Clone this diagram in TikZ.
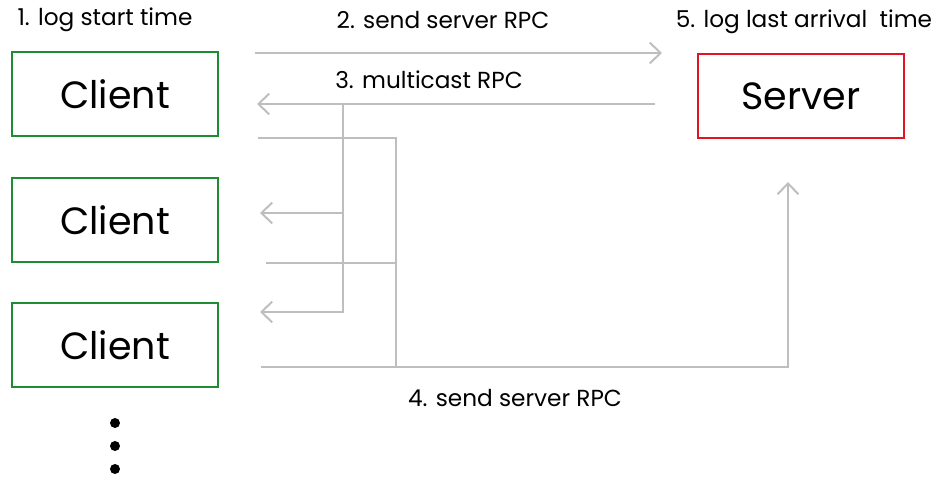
\documentclass[tikz,border=0pt]{standalone}
\usepackage{fontspec}
\setmainfont{Poppins}
\usetikzlibrary{arrows.meta, positioning}
\definecolor{cgreen}{RGB}{30,140,50}
\definecolor{sred}{RGB}{225,20,35}
\definecolor{lgray}{RGB}{190,190,190}

\begin{document}
\begin{tikzpicture}[x=0.025cm,y=-0.025cm,
  C/.style={draw=cgreen,line width=1.3pt,
            minimum width=5.15cm,minimum height=2.1cm,
            font=\fontsize{27}{32}\selectfont},
  Srv/.style={draw=sred,line width=1.3pt,
            minimum width=5.15cm,minimum height=2.1cm,
            font=\fontsize{27}{32}\selectfont},
  ln/.style={lgray,line width=1.4pt},
  ar/.style={-{Straight Barb[length=0.27cm,width=0.52cm]},lgray,line width=1.4pt},
  lb/.style={font=\fontsize{16.5}{20}\selectfont,inner sep=0pt},
  vdot/.style={circle,fill=black,inner sep=0pt,minimum size=0.25cm}
]
\useasboundingbox (0,0) rectangle (936,477);

% clients and server
\node[C] (c1) at (115,94)  {Client};
\node[C] (c2) at (115,220) {Client};
\node[C] (c3) at (115,345) {Client};
\node[Srv] (srv) at (801,96) {Server};

% more clients
\node[vdot] (d1) at (115,423) {};
\node[vdot] (d2) at (115,446) {};
\node[vdot] (d3) at (115,469) {};

% step labels
\node[lb] (l1) at (105,20)  {1. log start time};
\node[lb] (l2) at (443,20)  {2. send server RPC};
\node[lb] (l3) at (429,80)  {3. multicast RPC};
\node[lb] (l4) at (515,398) {4. send server RPC};
\node[lb] (l5) at (804,22)  {5. log last arrival\ \ time};

% junction points
\coordinate (s2a) at (255,53);
\coordinate (s2b) at (662,53);
\coordinate (m3a) at (655,104);
\coordinate (m3b) at (257,104);
\coordinate (mj)  at (343,104);
\coordinate (m2)  at (260,213);
\coordinate (m3)  at (260,312);
\coordinate (r1)  at (258,138);
\coordinate (r2)  at (266,263);
\coordinate (r3)  at (261,367);
\coordinate (rj)  at (396,138);
\coordinate (up)  at (788,182);

% 2. client -> server
\draw[ar] (s2a) -- (s2b);

% 3. multicast
\draw[ar] (m3a) -- (m3b);
\draw[ar] (mj) |- (m2);
\draw[ar] (mj) |- (m3);

% 4. clients -> server
\draw[ln] (r1) -- (rj) -- (rj |- r3);
\draw[ln] (r2) -- (rj |- r2);
\draw[ar] (r3) -| (up);

\end{tikzpicture}
\end{document}
